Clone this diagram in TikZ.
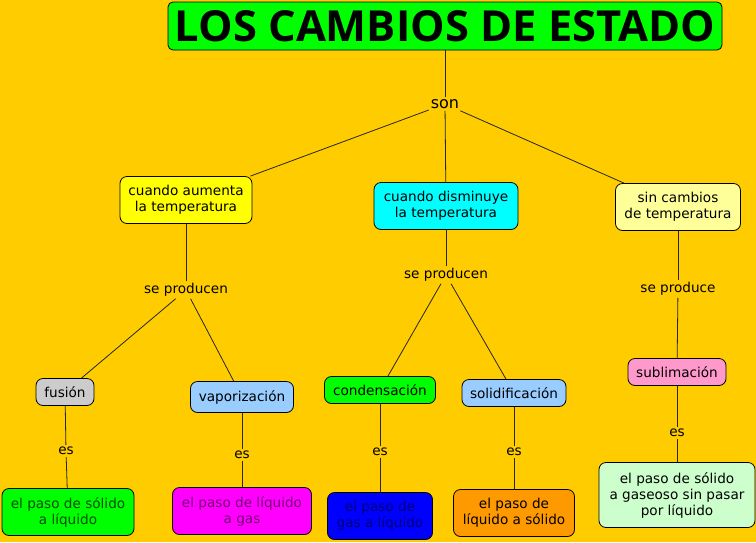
\documentclass[tikz,border=0pt]{standalone}
\usepackage{fontspec}
\usepackage{graphicx}
\setmainfont{DejaVu Sans}
\newfontfamily\titlefont{Open Sans}
\usepackage{xcolor}
\usetikzlibrary{positioning,calc}

\definecolor{fondo}{HTML}{FFCC00}
\definecolor{verde}{HTML}{00FF00}
\definecolor{amarillo}{HTML}{FFFF00}
\definecolor{celeste}{HTML}{00FFFF}
\definecolor{crema}{HTML}{FFFF99}
\definecolor{gris}{HTML}{CCCCCC}
\definecolor{azulclaro}{HTML}{99CCFF}
\definecolor{rosa}{HTML}{FF99CC}
\definecolor{magenta2}{HTML}{FF00FF}
\definecolor{azul}{HTML}{0000FF}
\definecolor{naranja}{HTML}{FF9900}
\definecolor{menta}{HTML}{CCFFCC}

\tikzset{
  concept/.style={draw=black, line width=0.8pt, rounded corners=7pt, align=center,
    inner sep=0pt, font=\fontsize{13.6}{16}\selectfont},
  linkword/.style={inner sep=2pt, font=\fontsize{13.6}{16}\selectfont},
  link/.style={draw=black!85, line width=0.8pt}
}

\begin{document}
\begin{tikzpicture}[x=1pt, y=-1pt]
        % background
        \fill[fondo] (0,0) rectangle (756,542);
        \useasboundingbox (0,0) rectangle (756,542);

        % Title
        \node[concept, fill=verde, minimum width=554pt, minimum height=48pt, rounded corners=5pt] (titulo) at (445,26)
            {\resizebox{540pt}{31pt}{\titlefont\bfseries LOS CAMBIOS DE ESTADO}};
        \node[linkword, font=\fontsize{16}{18}\selectfont] (son) at (445,104) {son};

        % First level
        \node[concept, fill=amarillo, minimum width=132pt, minimum height=47pt] (aumenta) at (186,200)
            {cuando aumenta\\la temperatura};
        \node[concept, fill=celeste, minimum width=144pt, minimum height=47pt] (disminuye) at (446,206)
            {cuando disminuye\\la temperatura};
        \node[concept, fill=crema, minimum width=125pt, minimum height=47pt] (sincambios) at (678,207)
            {sin cambios\\de temperatura};

        \node[linkword] (prodA) at (186,290) {se producen};
        \node[linkword] (prodB) at (446,275) {se producen};
        \node[linkword] (prodC) at (678,289) {se produce};

        % Second level
        \node[concept, fill=gris, minimum width=58pt, minimum height=27pt] (fusion) at (65,392) {fusión};
        \node[concept, fill=azulclaro, minimum width=103pt, minimum height=31pt] (vapor) at (242,397) {vaporización};
        \node[concept, fill=verde, minimum width=111pt, minimum height=27pt] (conden) at (380,390) {condensación};
        \node[concept, fill=azulclaro, minimum width=104pt, minimum height=27pt] (solid) at (514,393) {solidificación};
        \node[concept, fill=rosa, minimum width=98pt, minimum height=27pt] (subli) at (677,372) {sublimación};

        \node[linkword] (esA) at (66,451) {es};
        \node[linkword] (esB) at (242,455) {es};
        \node[linkword] (esC) at (380,452) {es};
        \node[linkword] (esD) at (514,452) {es};
        \node[linkword] (esE) at (677,433) {es};

        % Third level
        \node[concept, fill=verde, text=verde!30!black, minimum width=132pt, minimum height=47pt] (defA) at (68,512)
            {el paso de sólido\\a líquido};
        \node[concept, fill=magenta2, text=magenta2!45!black, minimum width=139pt, minimum height=47pt] (defB) at (242,511)
            {el paso de líquido\\a gas};
        \node[concept, fill=azul, text=azul!45!black, minimum width=105pt, minimum height=47pt] (defC) at (380,516)
            {el paso de\\gas a líquido};
        \node[concept, fill=naranja, minimum width=121pt, minimum height=47pt] (defD) at (514,513)
            {el paso de\\líquido a sólido};
        \node[concept, fill=menta, minimum width=156pt, minimum height=65pt] (defE) at (677,495)
            {el paso de sólido\\a gaseoso sin pasar\\por líquido};

        % Connectors
        \draw[link] (titulo) -- (son);
        \foreach \dest in {aumenta, disminuye, sincambios}
            \draw[link] (son) -- (\dest);
        \draw[link] (aumenta) -- (prodA);
        \draw[link] (disminuye) -- (prodB);
        \draw[link] (sincambios) -- (prodC);
        \draw[link] (prodA) -- (fusion);
        \draw[link] (prodA) -- (vapor);
        \draw[link] (prodB) -- (conden);
        \draw[link] (prodB) -- (solid);
        \draw[link] (prodC) -- (subli);
        \draw[link] (fusion) -- (esA);  \draw[link] (esA) -- (defA);
        \draw[link] (vapor) -- (esB);   \draw[link] (esB) -- (defB);
        \draw[link] (conden) -- (esC);  \draw[link] (esC) -- (defC);
        \draw[link] (solid) -- (esD);   \draw[link] (esD) -- (defD);
        \draw[link] (subli) -- (esE);   \draw[link] (esE) -- (defE);
    \end{tikzpicture}
\end{document}
